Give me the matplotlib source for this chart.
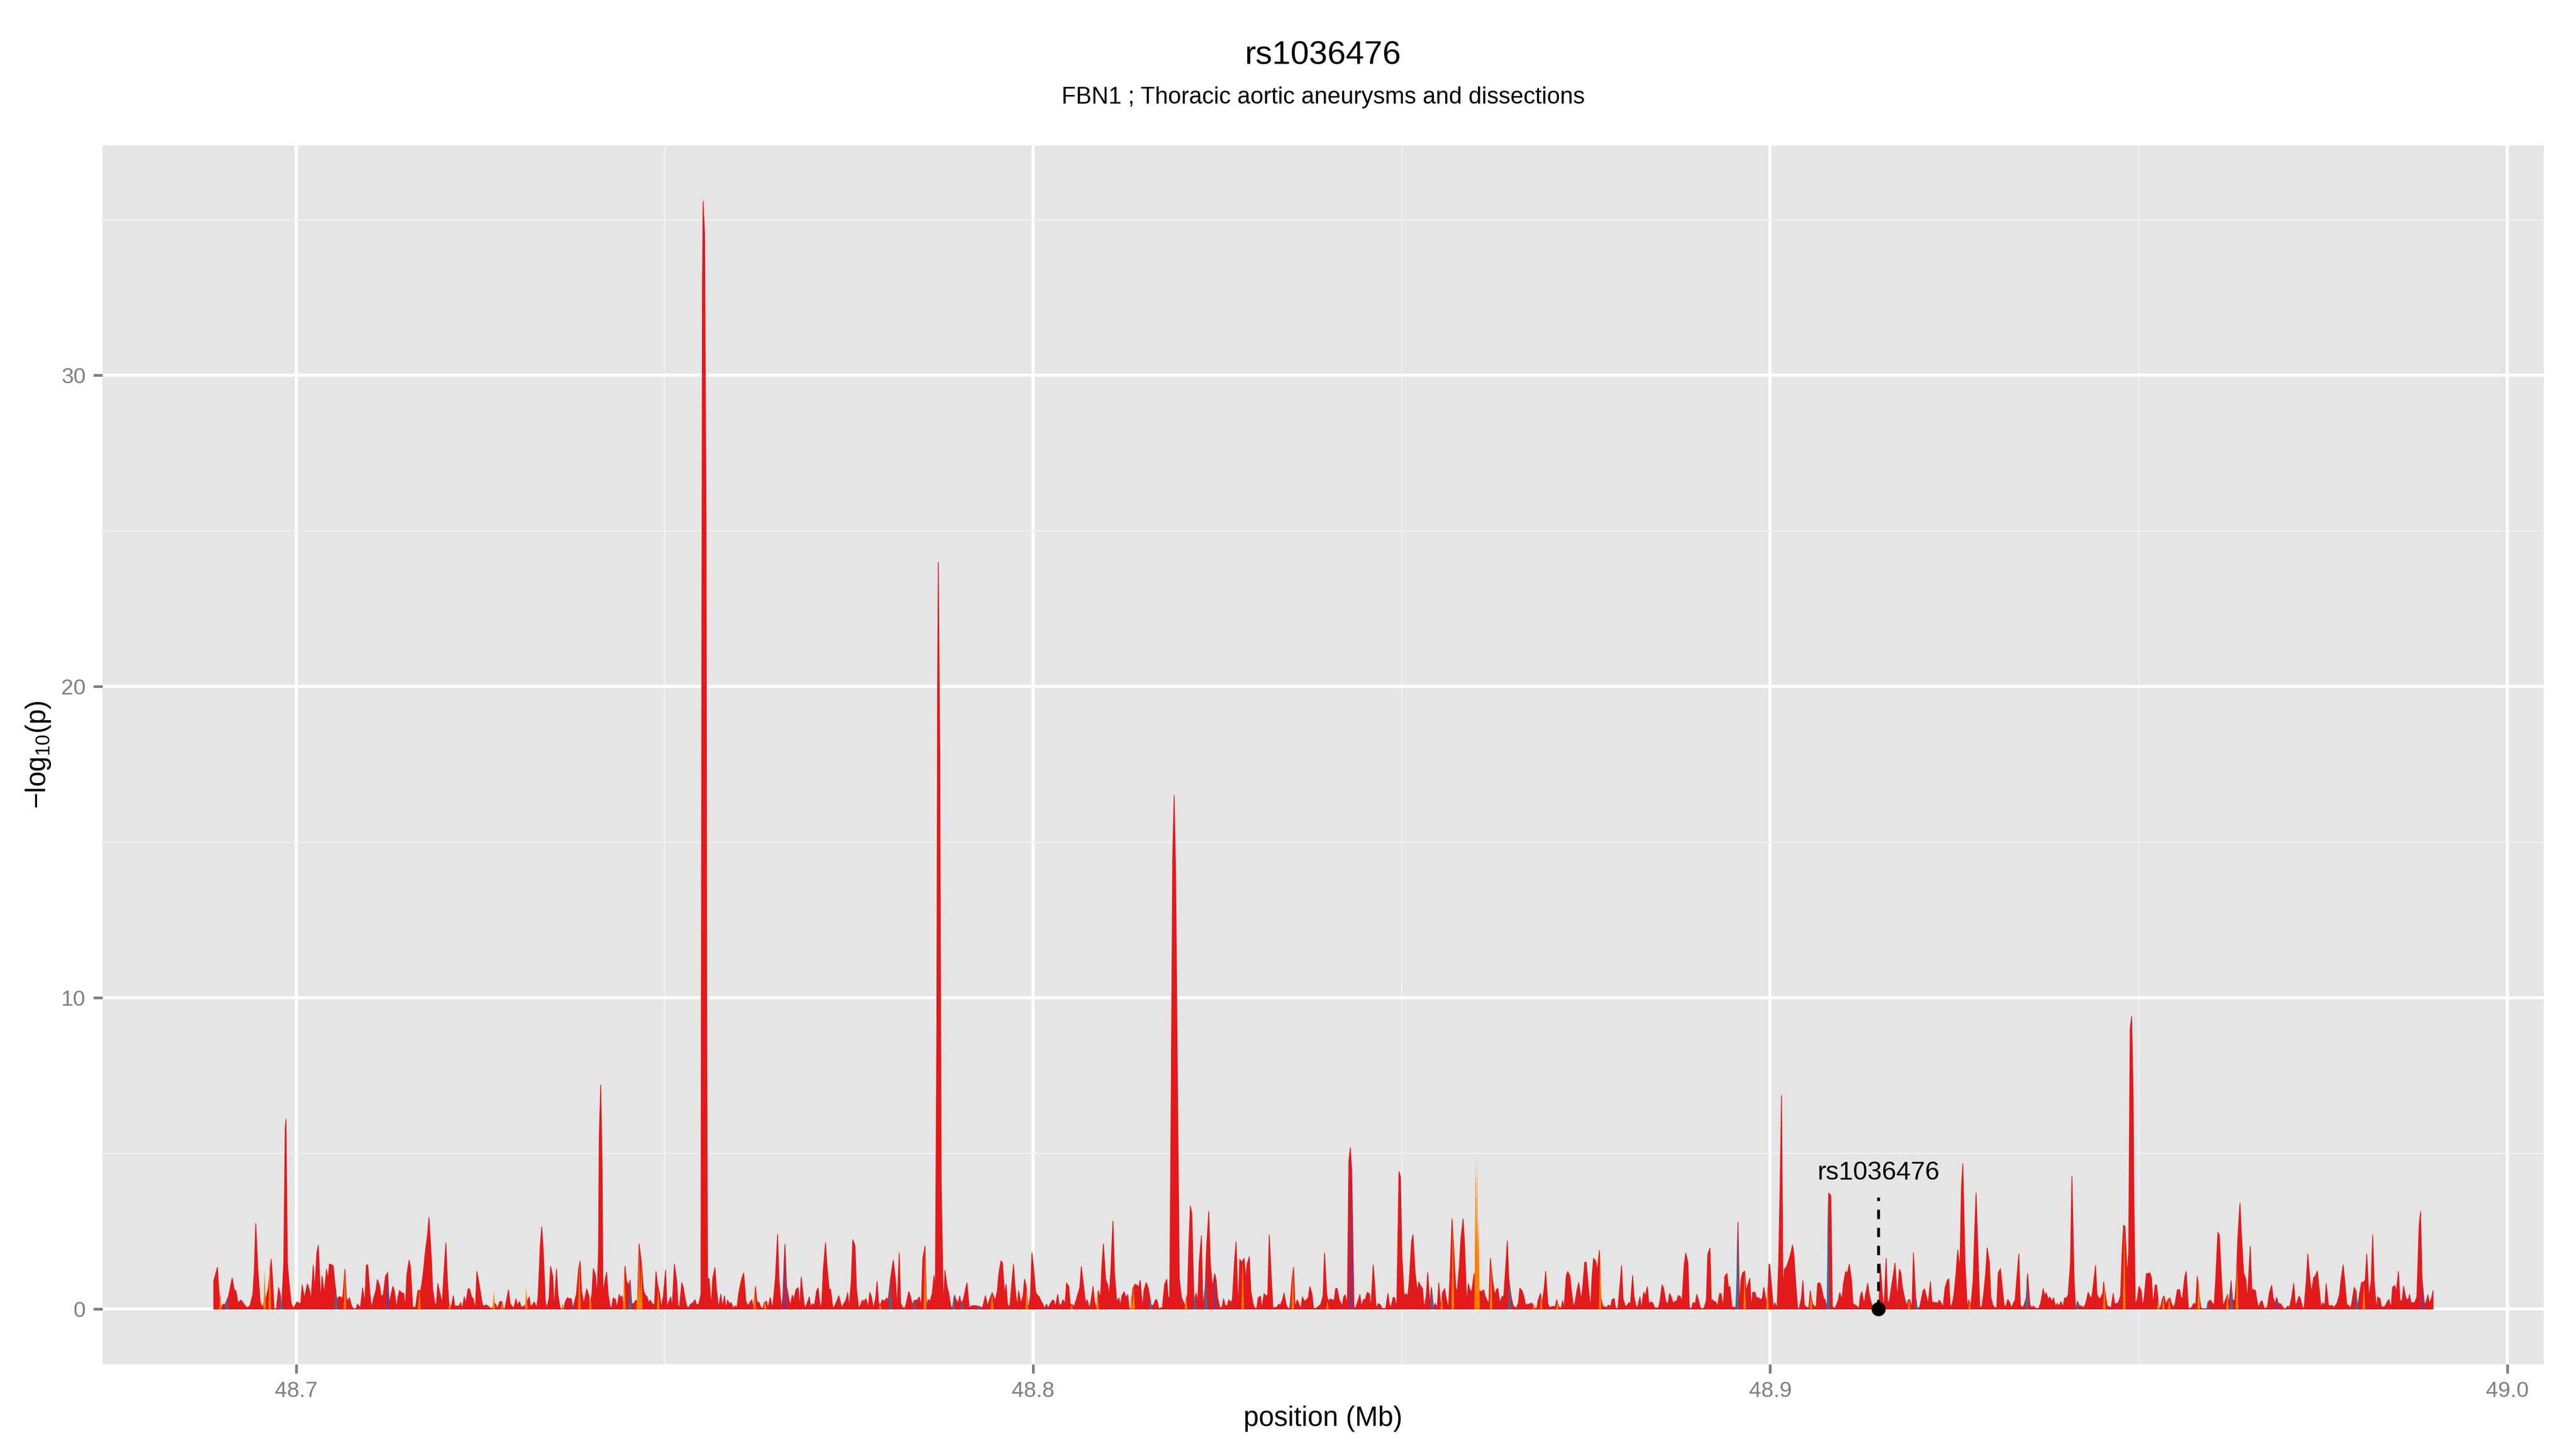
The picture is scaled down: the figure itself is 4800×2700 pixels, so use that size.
import matplotlib
matplotlib.use("Agg")
import matplotlib.pyplot as plt
from matplotlib.ticker import FixedLocator

plt.rcParams['font.family'] = ['Liberation Sans', 'DejaVu Sans']
plt.rcParams['mathtext.fontset'] = 'custom'
plt.rcParams['mathtext.rm'] = 'Liberation Sans'
plt.rcParams['mathtext.default'] = 'regular'

# ---------------- text ----------------
title = "rs1036476"
subtitle = "FBN1 ; Thoracic aortic aneurysms and dissections"
x_title = "position (Mb)"
y_title = r"$\mathregular{-log_{10}(p)}$"
lead_snp = "rs1036476"
lead_pos_mb = 48.9147

x_ticks = [48.7, 48.8, 48.9, 49.0]
x_tick_labels = ["48.7", "48.8", "48.9", "49.0"]
y_ticks = [0, 10, 20, 30]
y_tick_labels = ["0", "10", "20", "30"]

# ---------------- data ----------------
# main (red) series in six stretches.
# each pair: (offset from stretch start in units of 100 bp, -log10 p)
stretch_start_mb = [48.6882, 48.7392, 48.7902, 48.8412, 48.8921, 48.9431]

red_1 = [(6,0.9),(11,1.34),(13,0.6),(15,0.0),(19,0.16),(21,0.13),(26,0.4),(31,1.0),(34,0.6),(36,0.6),(39,0.2),(43,0.29),(51,0.04),(55,0.1),(59,0.47),(61,1.22),(63,2.75),(66,1.22),(69,0.24),(72,0.04),(74,0.2),(77,0.36),(80,0.67),(84,1.6),(86,0.9),(88,0.0),(91,0.0),(94,0.69),(96,0.5),(98,0.0),(101,1.5),(103,5.8),(104,6.1),(106,1.5),(108,0.9),(111,0.2),(114,0.02),(119,0.23),(124,0.17),(126,0.78),(129,0.35),(133,0.81),(136,0.6),(138,0.3),(141,1.41),(143,0.62),(146,1.83),(148,2.05),(151,0.27),(153,1.06),(156,0.5),(159,1.28),(161,0.94),(163,1.45),(168,1.40),(171,0.7),(173,0.3),(176,0.4),(181,0.36),(184,1.28),(186,0.36),(188,0.24),(190,0.37),(193,0.1),(196,0.0),(199,0.0),(201,0.16),(205,0.04),(208,0.69),(211,0.18),(213,1.41),(215,1.42),(218,0.47),(220,0.04),(223,0.36),(226,0.6),(228,0.95),(231,0.76),(233,0.4),(236,0.47),(239,1.05),(242,1.18),(244,0.17),(249,0.73),(251,0.6),(254,0.04),(256,0.39),(258,0.6),(261,0.52),(264,0.5),(266,0.04),(268,1.1),(271,1.57),(273,1.34),(276,0.04),(280,0.08),(283,0.6),(287,0.6),(289,0.94),(291,1.34),(293,1.83),(296,2.38),(298,2.95),(301,1.74),(303,0.65),(306,0.18),(308,0.15),(310,0.82),(313,0.5),(316,0.18),(318,1.05),(321,2.13),(323,0.94),(325,0.18),(328,0.04),(331,0.43),(333,0.1),(339,0.1),(341,0.21),(343,0.01),(346,0.39),(348,0.18),(351,0.65),(353,0.65),(356,0.39),(358,0.33),(361,0.01),(363,1.21),(366,0.82),(369,0.36),(371,0.1),(376,0.13),(381,0.04),(383,0.01),(388,0.18),(391,0.01),(394,0.24),(397,0.24),(399,0.01),(401,0.01),(406,0.62),(408,0.18),(413,0.02),(416,0.33),(418,0.13),(421,0.24),(423,0.06),(428,0.1),(434,0.39),(436,0.06),(441,0.23),(444,0.04),(446,0.39),(449,2.03),(451,2.64),(453,1.91),(456,0.21),(458,0.04),(461,0.36),(463,1.37),(466,1.05),(468,0.02),(471,1.28),(473,0.47),(476,0.02),(481,0.01),(483,0.24),(486,0.37),(488,0.33),(491,0.34),(493,0.01),(498,0.47),(501,1.28),(503,1.54),(505,0.6),(508,0.18)]

red_2 = [(2,0.65),(5,0.42),(6,0.0),(9,0.47),(11,1.30),(14,1.08),(16,0.39),(18,1.86),(19,5.5),(21,7.2),(23,4.5),(24,0.53),(26,0.82),(29,1.19),(31,0.50),(34,0.04),(36,0.08),(38,0.36),(41,0.31),(43,0.04),(46,0.47),(48,0.36),(50,0.42),(52,0.0),(54,1.38),(56,0.91),(59,0.76),(61,0.93),(63,0.18),(66,0.17),(68,0.27),(71,0.28),(73,2.09),(76,1.54),(79,0.62),(81,0.47),(84,0.39),(86,0.20),(88,0.29),(91,0.17),(94,0.14),(96,1.21),(98,0.82),(101,0.47),(103,0.06),(106,0.42),(109,1.25),(111,0.06),(113,0.21),(116,0.39),(118,0.07),(121,1.44),(124,0.93),(126,0.08),(128,0.10),(131,0.85),(133,0.70),(136,0.27),(138,0.08),(140,0.04),(143,0.16),(146,0.20),(149,0.30),(151,0.14),(154,0.16),(156,0.36),(157,0.5),(158,18.0),(159,33.0),(160,35.6),(162,34.5),(164,25.0),(165,8.0),(166,0.93),(168,0.99),(171,0.10),(173,0.99),(176,1.33),(178,0.65),(181,0.04),(184,0.48),(186,0.08),(189,0.42),(191,0.01),(193,0.29),(196,0.16),(198,0.21),(201,0.02),(203,0.10),(206,0.06),(208,0.47),(211,0.85),(213,1.02),(215,1.16),(218,0.24),(221,0.10),(224,0.24),(226,0.30),(228,0.02),(231,0.72),(233,0.23),(236,0.21),(238,0.06),(241,0.02),(243,0.21),(246,0.25),(248,0.02),(251,0.37),(254,0.02),(256,0.47),(258,0.99),(261,2.40),(263,0.91),(266,0.04),(268,0.36),(271,2.08),(273,0.76),(276,0.36),(278,0.10),(281,0.45),(283,0.30),(286,0.63),(289,0.69),(291,0.04),(293,1.03),(296,0.36),(298,0.02),(301,0.18),(304,0.39),(306,0.04),(308,0.17),(311,0.13),(314,0.59),(316,0.68),(319,0.02),(321,0.24),(323,1.28),(326,2.13),(328,1.40),(331,0.63),(333,0.63),(336,0.02),(339,0.13),(341,0.24),(344,0.43),(346,0.24),(348,0.04),(351,0.18),(354,0.30),(356,0.53),(358,0.04),(361,0.93),(363,2.23),(366,2.03),(368,0.65),(371,0.04),(373,0.10),(376,0.29),(378,0.24),(381,0.33),(384,0.04),(386,0.54),(388,0.42),(391,0.02),(394,0.36),(396,0.89),(398,0.18),(401,0.16),(403,0.30),(406,0.25),(409,0.36),(411,0.27),(414,0.93),(416,1.28),(418,1.57),(421,0.93),(423,0.04),(426,1.80),(428,0.18),(431,0.04),(434,0.04),(436,0.24),(439,0.56),(441,0.42),(444,0.13),(446,0.27),(449,0.29),(451,0.30),(453,0.39),(456,0.13),(458,1.63),(461,2.02),(463,0.02),(465,0.30),(468,0.27),(471,0.53),(473,1.08),(475,0.70),(477,9.0),(478,20.0),(479,24.0),(481,18.0),(483,4.0),(486,0.01),(488,1.25),(491,0.70),(493,0.53),(496,0.10),(498,0.02),(501,0.45),(503,0.30),(506,0.20),(508,0.42)]

red_3 = [(0,0.18),(3,0.30),(6,0.65),(8,0.84),(11,0.04),(14,0.10),(16,0.11),(20,0.11),(22,0.10),(26,0.07),(29,0.04),(31,0.24),(33,0.43),(36,0.10),(38,0.27),(42,0.53),(44,0.42),(46,0.27),(49,0.56),(51,1.11),(54,1.55),(56,1.49),(59,0.47),(61,0.80),(63,0.14),(66,0.07),(68,0.62),(71,1.44),(73,0.76),(76,0.08),(78,0.59),(81,0.18),(84,0.42),(86,0.96),(88,0.76),(91,0.0),(94,0.42),(96,1.81),(98,1.40),(101,0.56),(103,0.46),(106,0.39),(109,0.23),(111,0.16),(113,0.02),(116,0.16),(118,0.02),(121,0.18),(124,0.29),(126,0.27),(128,0.07),(131,0.47),(133,0.14),(136,0.14),(138,0.30),(141,0.18),(143,0.84),(146,0.73),(148,0.16),(151,0.14),(153,0.07),(156,0.29),(159,0.53),(161,0.70),(163,1.37),(166,0.76),(169,0.18),(171,0.30),(174,0.02),(176,0.24),(179,0.73),(181,0.24),(184,0.02),(186,0.59),(189,0.36),(191,1.40),(193,2.10),(196,0.96),(199,0.76),(201,0.42),(203,1.22),(206,2.83),(208,1.22),(211,0.24),(214,0.36),(216,0.10),(218,0.42),(221,0.56),(224,0.36),(226,0.47),(228,0.02),(231,0.04),(233,0.67),(236,0.80),(239,0.76),(241,0.70),(243,0.93),(246,0.02),(248,0.59),(251,0.85),(254,0.67),(256,0.36),(258,0.10),(261,0.13),(264,0.31),(266,0.27),(268,0.02),(271,0.04),(273,0.04),(276,0.79),(279,0.96),(281,0.36),(283,0.39),(285,7.0),(287,14.5),(289,16.5),(291,14.0),(294,6.0),(296,0.99),(299,0.36),(302,0.21),(304,0.07),(307,0.47),(309,2.09),(311,3.31),(313,3.07),(316,0.13),(319,0.52),(321,0.18),(323,1.51),(326,2.36),(328,0.07),(331,0.65),(333,1.97),(336,3.14),(338,1.51),(341,0.70),(344,1.14),(346,0.93),(348,0.36),(351,0.04),(354,0.06),(356,0.33),(358,0.13),(361,0.10),(363,0.30),(366,0.21),(368,0.31),(371,1.57),(373,2.16),(376,0.04),(378,1.60),(381,1.51),(384,1.63),(386,0.96),(388,1.45),(391,1.68),(393,0.59),(396,0.18),(398,0.04),(401,0.02),(403,0.36),(406,0.42),(408,0.02),(411,0.50),(413,0.43),(416,0.44),(418,2.38),(421,0.93),(423,0.04),(426,0.05),(428,0.05),(431,0.16),(433,0.13),(436,0.30),(438,0.52),(441,0.13),(443,0.04),(446,0.02),(449,0.99),(451,1.34),(453,0.07),(456,0.30),(458,0.18),(461,0.02),(463,0.39),(466,0.24),(468,0.29),(471,0.36),(473,0.72),(476,0.50),(478,0.02),(481,0.02),(484,0.07),(486,0.11),(488,0.17),(491,0.42),(493,1.80),(496,0.47),(498,0.25),(501,0.33),(503,0.30),(506,0.27),(508,0.65)]

red_4 = [(0,0.67),(3,0.30),(7,0.10),(9,0.39),(11,0.46),(14,0.16),(16,4.74),(18,5.18),(20,4.39),(23,0.04),(25,0.04),(28,0.23),(31,0.47),(33,0.10),(36,0.31),(38,0.29),(41,0.54),(44,0.48),(46,0.02),(49,1.42),(51,0.82),(53,0.02),(56,0.18),(59,0.13),(61,0.02),(66,0.02),(69,0.50),(71,0.16),(73,0.04),(76,0.37),(78,0.37),(81,0.06),(84,4.42),(86,4.25),(88,1.74),(91,0.42),(94,0.50),(96,0.39),(98,0.93),(101,2.15),(103,2.39),(106,1.16),(109,0.56),(111,0.87),(113,0.76),(116,0.66),(118,0.02),(121,0.42),(123,1.18),(126,0.13),(128,0.70),(131,0.04),(133,0.18),(136,0.06),(138,0.84),(141,0.02),(143,0.53),(146,0.66),(148,0.36),(151,0.02),(153,0.93),(156,2.90),(158,2.09),(161,0.67),(163,0.59),(166,1.40),(168,2.26),(171,2.90),(173,2.09),(176,0.13),(178,0.82),(181,0.56),(183,0.62),(186,1.14),(188,0.6),(190,0.6),(193,0.59),(196,0.56),(199,0.62),(201,0.42),(203,0.30),(206,0.18),(208,1.63),(211,0.93),(214,0.44),(216,0.62),(218,0.67),(221,0.20),(224,0.42),(226,0.36),(228,1.05),(231,2.19),(233,0.99),(236,0.42),(239,0.10),(241,0.07),(243,0.02),(246,0.20),(248,0.67),(251,0.59),(254,0.36),(256,0.10),(258,0.16),(261,0.16),(264,0.20),(266,0.10),(268,0.04),(271,0.02),(273,0.30),(276,0.50),(278,0.18),(281,0.65),(283,1.21),(286,0.16),(289,0.04),(291,0.08),(293,0.08),(296,0.08),(298,0.30),(301,0.07),(304,0.02),(306,0.27),(308,0.02),(311,1.08),(313,1.21),(316,1.05),(318,0.59),(321,0.04),(323,0.24),(326,0.67),(328,0.85),(331,0.30),(333,0.62),(336,1.50),(338,1.51),(341,0.70),(344,0.04),(346,1.05),(348,1.63),(351,1.54),(353,1.22),(356,1.89),(358,0.36),(361,0.06),(363,0.08),(366,0.04),(368,0.13),(371,0.07),(373,0.30),(376,0.34),(378,0.02),(381,0.02),(384,0.82),(386,1.40),(388,0.33),(391,0.10),(393,0.10),(396,0.21),(398,0.16),(401,1.08),(403,0.39),(406,0.04),(408,0.10),(411,0.39),(413,0.02),(416,0.54),(418,0.42),(421,0.72),(423,0.18),(426,0.23),(428,0.21),(431,0.04),(434,0.04),(436,0.04),(438,0.24),(441,0.78),(443,0.67),(446,0.24),(449,0.16),(451,0.50),(453,0.42),(456,0.18),(458,0.24),(461,0.27),(463,0.44),(466,0.39),(468,0.24),(471,1.44),(473,1.80),(476,1.51),(478,0.04),(481,0.02),(483,0.21),(486,0.18),(488,0.47),(491,0.24),(493,0.02),(496,0.02),(498,0.04),(501,0.27),(503,1.77),(506,1.96),(508,0.04)]

red_5 = [(0,0.30),(3,0.24),(5,0.23),(7,0.07),(10,0.50),(12,0.50),(15,0.04),(17,1.05),(20,1.15),(22,0.70),(24,0.73),(27,0.04),(29,0.07),(32,0.04),(34,1.2),(35,2.79),(37,0.04),(39,0.93),(41,1.16),(44,1.22),(46,0.59),(48,0.76),(51,0.99),(53,0.04),(55,0.54),(58,0.54),(60,0.36),(63,0.37),(65,0.29),(68,0.36),(70,0.70),(72,0.42),(75,0.04),(77,1.44),(78,1.44),(81,0.59),(83,0.04),(85,0.20),(88,0.04),(90,1.40),(92,3.82),(94,6.87),(96,0.65),(98,1.28),(101,1.37),(103,1.51),(106,1.74),(109,2.06),(111,1.71),(113,0.93),(116,0.01),(118,0.02),(121,0.36),(123,0.91),(125,0.13),(128,0.06),(131,0.04),(133,0.59),(136,0.18),(138,0.10),(141,0.07),(143,0.82),(146,0.85),(148,0.70),(151,0.36),(153,0.30),(156,0.04),(158,3.73),(161,3.64),(163,0.08),(166,0.02),(168,0.10),(171,0.29),(173,0.53),(176,0.30),(178,0.82),(181,1.21),(183,1.14),(186,1.44),(189,0.93),(191,0.17),(194,0.13),(196,0.10),(199,0.02),(201,0.42),(203,0.56),(206,0.16),(208,0.47),(211,0.83),(213,0.47),(216,0.18),(218,0.08),(221,0.04),(224,0.24),(226,0.02),(228,1.46),(231,0.42),(233,0.04),(236,1.63),(238,0.13),(241,0.36),(243,0.70),(246,1.14),(248,1.48),(251,0.36),(254,1.28),(256,1.16),(258,0.70),(261,0.36),(264,0.10),(266,0.30),(268,0.30),(271,0.04),(273,1.81),(276,0.36),(278,0.04),(281,0.04),(283,0.24),(286,0.59),(288,0.65),(291,0.36),(293,0.18),(296,0.88),(298,0.24),(301,0.21),(304,0.21),(306,0.18),(308,0.29),(311,0.18),(313,0.04),(316,0.70),(319,0.93),(321,0.97),(323,0.04),(326,0.20),(328,0.47),(331,1.22),(333,1.90),(336,1.28),(338,3.82),(340,4.67),(343,1.51),(346,0.04),(348,0.30),(351,0.13),(354,0.93),(356,2.43),(358,3.73),(361,1.51),(363,0.04),(366,0.10),(368,0.44),(371,1.16),(373,1.97),(376,1.51),(378,0.39),(381,0.10),(384,0.04),(386,0.04),(388,1.16),(391,1.30),(393,0.82),(396,0.13),(398,0.07),(401,0.31),(403,0.24),(406,0.04),(408,0.16),(411,0.30),(413,0.93),(416,1.77),(418,0.13),(421,0.04),(423,0.13),(426,0.36),(428,1.14),(431,0.13),(434,0.04),(436,0.10),(438,0.04),(441,0.02),(443,0.02),(446,0.24),(449,0.66),(451,0.42),(453,0.53),(456,0.30),(458,0.39),(461,0.24),(463,0.36),(466,0.07),(468,0.18),(471,0.10),(473,0.24),(476,0.07),(478,0.36),(481,0.36),(483,0.47),(486,1.51),(488,4.26),(491,0.93),(493,0.04),(496,0.24),(498,0.10),(501,0.10),(503,0.04),(506,0.13),(508,0.30)]

red_6 = [(0,0.54),(3,0.36),(5,0.39),(7,0.76),(10,1.40),(12,0.47),(15,0.33),(17,0.36),(20,0.53),(21,0.87),(24,0.36),(26,0.10),(29,0.07),(31,0.02),(34,0.50),(36,0.17),(38,0.17),(41,0.21),(44,0.42),(46,1.80),(48,2.69),(50,2.66),(53,1.05),(55,1.86),(57,9.0),(59,9.4),(61,7.0),(62,3.82),(64,0.13),(67,0.36),(69,0.73),(72,0.59),(74,0.07),(76,0.36),(79,1.14),(81,1.14),(84,1.16),(86,0.99),(88,0.13),(91,0.78),(93,0.76),(96,0.04),(98,0.04),(101,0.36),(103,0.42),(106,0.13),(108,0.30),(111,0.36),(113,0.18),(116,0.04),(118,0.18),(121,0.62),(124,0.63),(126,0.36),(128,0.36),(131,1.02),(133,1.21),(136,0.04),(138,0.01),(141,0.07),(143,0.18),(146,0.16),(148,1.05),(151,0.36),(153,0.04),(156,0.01),(158,0.01),(161,0.01),(163,0.24),(166,0.29),(168,0.21),(171,0.13),(173,0.93),(176,2.47),(178,2.38),(181,0.93),(183,0.10),(186,0.27),(189,0.47),(191,0.18),(194,0.91),(196,0.27),(199,0.30),(201,0.93),(203,2.26),(206,3.40),(208,2.38),(211,1.16),(214,0.96),(216,0.30),(218,1.16),(220,2.01),(222,0.65),(224,0.62),(227,0.60),(229,0.27),(231,0.04),(234,0.23),(236,0.27),(239,0.02),(241,0.04),(243,0.04),(246,0.53),(249,0.76),(251,0.36),(254,0.18),(256,0.36),(258,0.18),(261,0.17),(264,0.07),(266,0.01),(268,0.02),(271,0.10),(273,0.04),(276,0.36),(279,0.83),(281,0.18),(283,0.18),(286,0.42),(288,0.33),(291,0.04),(293,0.04),(296,0.93),(298,1.77),(301,0.93),(303,0.53),(306,1.02),(308,1.05),(311,1.22),(313,0.76),(316,0.04),(318,0.20),(321,0.13),(323,0.82),(326,0.13),(328,0.10),(331,0.12),(333,0.04),(336,0.13),(338,0.21),(341,0.47),(343,0.93),(346,1.42),(348,0.93),(351,0.13),(353,0.13),(356,0.02),(358,0.24),(361,0.70),(363,0.59),(366,0.07),(368,0.47),(371,0.86),(373,0.85),(376,0.93),(378,1.77),(381,0.36),(384,0.93),(386,2.38),(388,0.93),(391,0.02),(393,0.39),(396,0.33),(398,0.07),(401,0.07),(403,0.10),(406,0.24),(408,0.31),(411,0.04),(413,0.70),(416,0.76),(418,0.53),(421,1.21),(423,0.27),(426,0.27),(428,0.73),(431,0.36),(434,0.27),(436,0.47),(438,0.20),(441,0.21),(443,0.21),(446,0.39),(449,2.66),(451,3.14),(453,0.99),(456,0.21),(458,0.18),(461,0.46),(463,0.18),(466,0.36),(468,0.59)]

red_stretches = [red_1, red_2, red_3, red_4, red_5, red_6]

# the other colour groups only show as narrow spikes
orange_pos = [48.6897, 48.6957, 48.6964, 48.7066, 48.7167, 48.7208, 48.7268, 48.7279, 48.7312, 48.7361, 48.7384,
              48.7399, 48.7445, 48.7463, 48.7465, 48.7468, 48.7491, 48.7622, 48.7636, 48.7792, 48.7853,
              48.7944, 48.7991, 48.8052, 48.8087, 48.8133, 48.8136, 48.8207, 48.8284, 48.8352, 48.8399,
              48.8554, 48.8569, 48.8600, 48.8602, 48.8604, 48.8621, 48.8679, 48.8689, 48.8711, 48.8769,
              48.8965, 48.8996, 48.9055, 48.9188, 48.9270,
              48.9453, 48.9480, 48.9526, 48.9533, 48.9541, 48.9581, 48.9620, 48.9633, 48.9805]
orange_val = [0.53, 1.28, 1.60, 1.28, 0.72, 0.20, 0.59, 0.24, 0.72, 0.20, 1.50,
              0.47, 1.38, 0.60, 2.09, 1.54, 0.70, 0.72, 0.30, 0.20, 2.00,
              0.53, 0.76, 0.16, 0.60, 0.50, 0.80, 0.50, 1.63, 1.34, 0.25,
              0.40, 2.90, 4.88, 4.70, 3.00, 1.63, 0.20, 0.50, 0.30, 1.89,
              1.20, 0.80, 0.55, 0.33, 0.30,
              0.86, 2.69, 0.30, 0.45, 0.36, 1.05, 0.50, 1.50, 0.85]

blue_pos = [48.6906, 48.6979, 48.7054, 48.7453, 48.7806, 48.7839, 48.7892, 48.7903, 48.7926, 48.8159, 48.8219,
            48.8234, 48.8541, 48.8646, 48.8955, 48.9078, 48.9198, 48.9348, 48.9416, 48.9593, 48.9625, 48.9795]
blue_val = [0.40, 0.50, 0.70, 0.93, 1.00, 0.30, 0.45, 0.30, 0.10, 0.36, 0.52,
            1.30, 0.70, 1.00, 2.79, 3.70, 0.36, 1.14, 0.30, 0.25, 0.93, 0.70]

purple_pos = [48.7124, 48.7374, 48.7662, 48.8018, 48.8246, 48.8431, 48.9686, 48.9885]
purple_val = [1.18, 0.30, 2.08, 0.16, 1.14, 5.18, 0.44, 0.90]

# ---------------- style ----------------
RED = "#E31A1C"
ORANGE = "#FF7F00"
BLUE = "#1F78B4"
PURPLE = "#6A3D9A"
PANEL = "#E5E5E5"
GREY = "#7F7F7F"
SPIKE_HALF_WIDTH = 0.00017

red_x, red_y = [], []
for start, stretch in zip(stretch_start_mb, red_stretches):
    for off, v in stretch:
        red_x.append(round(start + off * 1e-4, 5))
        red_y.append(v)

fig = plt.figure(figsize=(16, 9), dpi=300)
ax = fig.add_axes([191 / 4800, 1 - 2542 / 2700, (4740 - 191) / 4800, (2542 - 271) / 2700])
ax.set_facecolor(PANEL)
for s in ax.spines.values():
    s.set_visible(False)

ax.fill_between(red_x, red_y, 0, color=RED, linewidth=0.35, zorder=3)

for pos, val, col in ((orange_pos, orange_val, ORANGE), (blue_pos, blue_val, BLUE),
                      (purple_pos, purple_val, PURPLE)):
    for p, h in zip(pos, val):
        ax.fill_between([p - SPIKE_HALF_WIDTH, p, p + SPIKE_HALF_WIDTH], [0, h, 0], 0,
                        color=col, linewidth=0, zorder=4)

# lead SNP marker
ax.plot([lead_pos_mb, lead_pos_mb], [0, 3.58], color="black", linewidth=1.3,
        dashes=(3.2, 3.0), zorder=5)
ax.plot([lead_pos_mb], [0], marker="o", markersize=5.3, color="black", zorder=6)
ax.text(lead_pos_mb, 4.15, lead_snp, ha="center", va="baseline", fontsize=11.6,
        color="black", zorder=6)

x0, x1 = min(red_x), max(red_x)
xpad = (x1 - x0) * 0.05
ax.set_xlim(x0 - xpad, x1 + xpad)
ymax = max(red_y)
ax.set_ylim(-ymax * 0.05, ymax * 1.05)

ax.xaxis.set_major_locator(FixedLocator(x_ticks))
ax.set_xticklabels(x_tick_labels)
ax.xaxis.set_minor_locator(FixedLocator([48.75, 48.85, 48.95]))
ax.yaxis.set_major_locator(FixedLocator(y_ticks))
ax.set_yticklabels(y_tick_labels)
ax.yaxis.set_minor_locator(FixedLocator([5, 15, 25, 35]))

ax.grid(which="major", color="white", linewidth=1.4, zorder=1)
ax.grid(which="minor", color="#F2F2F2", linewidth=0.6, zorder=0.5)
ax.set_axisbelow(True)
ax.tick_params(which="major", length=4.1, width=1.2, color=GREY, labelcolor=GREY,
               labelsize=9.85, pad=3.4)
ax.tick_params(which="minor", length=0)

cx = (191 + 4740) / 2 / 4800
fig.text(cx, 1 - 104 / 2700, title, ha="center", va="center", fontsize=14.8, color="black")
fig.text(cx, 1 - 182 / 2700, subtitle, ha="center", va="center", fontsize=10.5, color="black")
fig.text(cx, 1 - 2643 / 2700, x_title, ha="center", va="center", fontsize=12.3, color="black")
fig.text(72 / 4800, 1 - 1406 / 2700, y_title, ha="center", va="center", rotation=90,
         fontsize=12.3, color="black")

fig.savefig("out.png", dpi=300, facecolor="white")
